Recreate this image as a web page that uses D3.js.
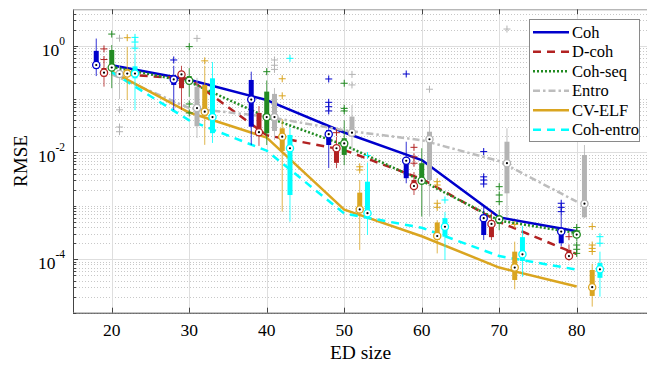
<!DOCTYPE html>
<html>
<head>
<meta charset="utf-8">
<script src="https://cdn.jsdelivr.net/npm/d3@7"></script>
<style>
  html, body { margin: 0; padding: 0; background: #fff; overflow: hidden; }
  text { font-family: "Liberation Serif", "Times New Roman", serif; fill: #000; }
</style>
</head>
<body>
<svg id="chart" width="647" height="365"></svg>
<script>
// ED sizes on the x axis and the six estimators compared
const edSizes = [20, 30, 40, 50, 60, 70, 80];
const methods = ["Coh", "D-coh", "Coh-seq", "Entro", "CV-ELF", "Coh-entro"];
const yTickExponents = [0, -2, -4];

// Trend line per method (one value per ED size)
const trendCoh      = [0.43, 0.23, 0.096, 0.0237, 7.2e-3, 6.1e-4, 3.35e-4];
const trendDcoh     = [0.30, 0.24, 0.021, 0.0111, 3.2e-3, 5.0e-4, 1.25e-4];
const trendCohSeq   = [0.40, 0.21, 0.046, 0.0138, 2.96e-3, 5.3e-4, 3.1e-4];
const trendEntro    = [0.29, 0.068, 0.047, 0.026, 0.017, 6.9e-3, 1.2e-3];
const trendCvElf    = [0.33, 0.056, 0.019, 8.5e-4, 2.7e-4, 7.0e-5, 3.1e-5];
const trendCohEntro = [0.32, 0.04, 0.0108, 7.2e-4, 3.9e-4, 1.15e-4, 6.4e-5];

// Box statistics: rows follow `methods`, columns follow `edSizes`
const medians = [
  [0.435, 0.233, 0.098, 0.022, 7.0e-3, 5.9e-4, 3.3e-4],
  [0.312, 0.29, 0.024, 0.012, 2.36e-3, 4.6e-4, 1.15e-4],
  [0.39, 0.22, 0.046, 0.0148, 2.97e-3, 5.6e-4, 2.9e-4],
  [0.295, 0.068, 0.046, 0.0235, 0.0177, 6.3e-3, 1.1e-3],
  [0.30, 0.058, 0.0198, 8.6e-4, 2.73e-4, 7.0e-5, 3.0e-5],
  [0.30, 0.046, 0.012, 7.3e-4, 4.07e-4, 1.24e-4, 6.5e-5]
];
const upperQuartiles = [
  [0.80, 0.283, 0.228, 0.0264, 7.8e-3, 6.8e-4, 3.5e-4],
  [0.382, 0.335, 0.055, 0.0138, 3.06e-3, 5.4e-4, 1.5e-4],
  [0.83, 0.27, 0.138, 0.0185, 6.3e-3, 6.5e-4, 3.2e-4],
  [0.35, 0.17, 0.125, 0.047, 0.0245, 0.0159, 8.97e-3],
  [0.36, 0.184, 0.0284, 1.77e-3, 4.9e-4, 1.39e-4, 6.3e-5],
  [0.41, 0.245, 0.0213, 2.84e-3, 5.9e-4, 2.6e-4, 8.5e-5]
];
const lowerQuartiles = [
  [0.37, 0.184, 0.0304, 0.0138, 3.3e-3, 2.85e-4, 2.0e-4],
  [0.263, 0.16, 0.0205, 6.4e-3, 2.16e-3, 2.6e-4, 1.05e-4],
  [0.36, 0.19, 0.0229, 9.0e-3, 2.75e-3, 4.6e-4, 2.56e-4],
  [0.25, 0.031, 0.0253, 0.0212, 3.05e-3, 1.72e-3, 6.1e-4],
  [0.26, 0.048, 0.0107, 8.0e-4, 2.3e-4, 4.1e-5, 2.06e-5],
  [0.245, 0.023, 1.6e-3, 6.3e-4, 2.65e-4, 9.3e-5, 4.5e-5]
];
const whiskerHigh = [
  [1.36, 0.42, 0.326, 0.0305, 0.0159, 9.7e-4, 6.8e-4],
  [0.48, 0.42, 0.074, 0.0195, 4.3e-3, 7.7e-4, 1.9e-4],
  [1.03, 0.38, 0.223, 0.04, 0.012, 8.4e-4, 3.25e-4],
  [0.43, 0.25, 0.161, 0.0775, 0.0406, 0.0284, 0.0138],
  [0.95, 0.42, 0.0424, 3.05e-3, 5.4e-4, 2.14e-4, 8.2e-5],
  [0.72, 0.495, 0.029, 6.5e-3, 7.7e-4, 4.2e-4, 1.39e-4]
];
const whiskerLow = [
  [0.27, 0.0625, 0.0138, 5.1e-3, 2.65e-3, 2.3e-4, 1.78e-4],
  [0.171, 0.063, 0.0133, 5.1e-3, 1.6e-3, 2.3e-4, 9.5e-5],
  [0.16, 0.11, 0.0138, 5.8e-3, 6.3e-4, 3.5e-4, 2.2e-4],
  [0.10, 0.0187, 0.0171, 0.011, 6.3e-4, 6.3e-4, 5.9e-4],
  [0.096, 0.0139, 7.8e-4, 1.5e-4, 1.29e-4, 2.74e-5, 1.3e-5],
  [0.062, 0.0151, 5.06e-4, 2.85e-4, 9.7e-5, 4.7e-5, 2.0e-5]
];
const outliers = [
  [[], [0.54], [], [0.238, 0.087, 0.072, 0.060], [0.295], [0.0104, 3.5e-3, 3.05e-3, 2.57e-3], [1.12e-3, 9.4e-4, 7.8e-4]],
  [[0.87, 0.55], [], [], [0.0235], [0.0125, 8.3e-3, 6.3e-3], [], [2.65e-4]],
  [[1.65], [0.96, 0.081, 0.055], [0.326], [0.198, 0.067, 0.060], [], [2.29e-3, 1.6e-3, 1.2e-3], [3.94e-4, 3.4e-4, 1.85e-4, 1.54e-4, 1.29e-4]],
  [[1.38, 0.063, 0.030, 0.0245], [1.37], [0.54, 0.43, 0.36], [0.29, 0.184], [0.153], [2.05], []],
  [[1.41], [0.52], [0.24, 0.115], [5.4e-3, 4.7e-3], [2.84e-3, 2.46e-3, 1.12e-3, 9.4e-4], [4.5e-4], [4.1e-4, 1.85e-4, 1.6e-4, 1.4e-4]],
  [[1.43, 1.17, 0.90], [], [0.58], [8.8e-3], [1.29e-3], [], [2.65e-4, 2.0e-4]]
];

const trends = [trendCoh, trendDcoh, trendCohSeq, trendEntro, trendCvElf, trendCohEntro];

// Styling per method
const lineColors = ["#0000cc", "#b22222", "#228b22", "#bdbdbd", "#daa520", "#00ffff"];
const boxColors  = ["#0000cc", "#b22222", "#228b22", "#b3b3b3", "#daa520", "#00ffff"];
const dashes     = [null, "8,6", "2,2", "7,3,2.5,3", null, "8,6"];

const svg = d3.select("#chart");
const plotLeft = 73, plotRight = 648, plotTop = 9.3, plotBottom = 312.7;

const x = d3.scaleLinear().domain([15, 89.2]).range([plotLeft, plotRight]);
const y = d3.scaleLog().domain([1e-5, 4.8]).range([plotBottom, plotTop]);

// Clip everything inside the axes box
svg.append("defs").append("clipPath").attr("id", "plotClip")
  .append("rect").attr("x", plotLeft).attr("y", plotTop)
  .attr("width", plotRight - plotLeft).attr("height", plotBottom - plotTop);

// Minor / major values on the log axis
const majorY = yTickExponents.map(e => Math.pow(10, e));
const minorY = [];
for (let e = -5; e <= 0; e++) {
  for (let k = 1; k <= 9; k++) {
    const v = k * Math.pow(10, e);
    if (v >= 1e-5 && v <= 4.8 && !majorY.some(m => Math.abs(m - v) / v < 1e-9)) minorY.push(v);
  }
}

const grid = svg.append("g");
grid.selectAll("line.minor").data(minorY).join("line")
  .attr("x1", plotLeft).attr("x2", plotRight)
  .attr("y1", d => Math.round(y(d)) + 0.5).attr("y2", d => Math.round(y(d)) + 0.5)
  .attr("stroke", "#c8c8c8").attr("stroke-width", 1).attr("stroke-dasharray", "1,2");
grid.selectAll("line.majy").data(majorY).join("line")
  .attr("x1", plotLeft).attr("x2", plotRight)
  .attr("y1", d => Math.round(y(d)) + 0.5).attr("y2", d => Math.round(y(d)) + 0.5)
  .attr("stroke", "#dedede").attr("stroke-width", 1);
grid.selectAll("line.majx").data(edSizes).join("line")
  .attr("x1", d => Math.round(x(d)) + 0.5).attr("x2", d => Math.round(x(d)) + 0.5)
  .attr("y1", plotTop).attr("y2", plotBottom)
  .attr("stroke", "#dedede").attr("stroke-width", 1);

const plot = svg.append("g").attr("clip-path", "url(#plotClip)");

// Trend lines
const line = d3.line().x((d, i) => x(edSizes[i])).y(d => y(d));
trends.forEach((t, m) => {
  plot.append("path").datum(t)
    .attr("d", line)
    .attr("fill", "none")
    .attr("stroke", lineColors[m])
    .attr("stroke-width", 2.5)
    .attr("stroke-dasharray", dashes[m])
    .attr("stroke-linejoin", "round");
});

// Compact box plots, each method shifted along the ED axis
methods.forEach((name, m) => {
  const offset = m - 2;
  const col = boxColors[m];
  const g = plot.append("g");
  edSizes.forEach((ed, j) => {
    const cx = x(ed + offset);
    g.append("line")
      .attr("x1", cx).attr("x2", cx)
      .attr("y1", y(whiskerHigh[m][j])).attr("y2", y(whiskerLow[m][j]))
      .attr("stroke", col).attr("stroke-width", 1).attr("opacity", 0.8);
    g.append("rect")
      .attr("x", cx - 2.5).attr("width", 5)
      .attr("y", y(upperQuartiles[m][j]))
      .attr("height", Math.max(1, y(lowerQuartiles[m][j]) - y(upperQuartiles[m][j])))
      .attr("fill", col);
    outliers[m][j].forEach(v => {
      const oy = y(v);
      g.append("path")
        .attr("d", `M${cx - 3.5},${oy}H${cx + 3.5}M${cx},${oy - 3.5}V${oy + 3.5}`)
        .attr("stroke", col).attr("stroke-width", 1).attr("fill", "none");
    });
    const my = y(medians[m][j]);
    g.append("circle").attr("cx", cx).attr("cy", my).attr("r", 3.6)
      .attr("fill", "#fff").attr("stroke", col).attr("stroke-width", 1.3);
    g.append("circle").attr("cx", cx).attr("cy", my).attr("r", 1.1).attr("fill", "#000");
  });
});

// Axes frame and ticks
const axisCol = "#444";
const frame = svg.append("g");
frame.append("line").attr("x1", plotLeft + 0.5).attr("x2", plotLeft + 0.5).attr("y1", plotTop).attr("y2", plotBottom)
  .attr("stroke", axisCol).attr("stroke-width", 1);
frame.append("line").attr("x1", plotLeft).attr("x2", plotRight).attr("y1", plotBottom + 0.5).attr("y2", plotBottom + 0.5)
  .attr("stroke", axisCol).attr("stroke-width", 1);
frame.append("line").attr("x1", plotLeft).attr("x2", plotRight).attr("y1", plotTop + 0.5).attr("y2", plotTop + 0.5)
  .attr("stroke", "#999").attr("stroke-width", 1);

edSizes.forEach(d => {
  const px = Math.round(x(d)) + 0.5;
  frame.append("line").attr("x1", px).attr("x2", px).attr("y1", plotBottom).attr("y2", plotBottom - 5)
    .attr("stroke", axisCol);
  frame.append("line").attr("x1", px).attr("x2", px).attr("y1", plotTop).attr("y2", plotTop + 5)
    .attr("stroke", axisCol);
  svg.append("text").attr("x", x(d)).attr("y", 336)
    .attr("text-anchor", "middle").attr("font-size", 17.5).text(d);
});

minorY.forEach(v => {
  const py = Math.round(y(v)) + 0.5;
  frame.append("line").attr("x1", plotLeft).attr("x2", plotLeft + 3).attr("y1", py).attr("y2", py)
    .attr("stroke", axisCol);
});
majorY.forEach((v, i) => {
  const py = Math.round(y(v)) + 0.5;
  frame.append("line").attr("x1", plotLeft).attr("x2", plotLeft + 5).attr("y1", py).attr("y2", py)
    .attr("stroke", axisCol);
  const t = svg.append("text").attr("x", 65).attr("y", y(v) + 10).attr("text-anchor", "end");
  t.append("tspan").attr("font-size", 17.5).text("10");
  t.append("tspan").attr("font-size", 11.5).attr("dy", -11).text(String(yTickExponents[i]));
});

// Axis titles
svg.append("text").attr("x", (plotLeft + plotRight) / 2).attr("y", 359)
  .attr("text-anchor", "middle").attr("font-size", 19.5).text("ED size");
svg.append("text")
  .attr("transform", `translate(27,${(plotTop + plotBottom) / 2}) rotate(-90)`)
  .attr("text-anchor", "middle").attr("font-size", 19).text("RMSE");

// Legend
const lg = svg.append("g");
lg.append("rect").attr("x", 529.5).attr("y", 19.5).attr("width", 110).attr("height", 122)
  .attr("fill", "#fff").attr("stroke", "#8a8a8a").attr("stroke-width", 1);
methods.forEach((name, m) => {
  const ry = 32.3 + m * 19.5;
  lg.append("line").attr("x1", 533).attr("x2", 569).attr("y1", ry).attr("y2", ry)
    .attr("stroke", lineColors[m]).attr("stroke-width", 2.5)
    .attr("stroke-dasharray", dashes[m]);
  lg.append("text").attr("x", 572).attr("y", ry + 5.5).attr("font-size", 16.5).text(name);
});
</script>
</body>
</html>
